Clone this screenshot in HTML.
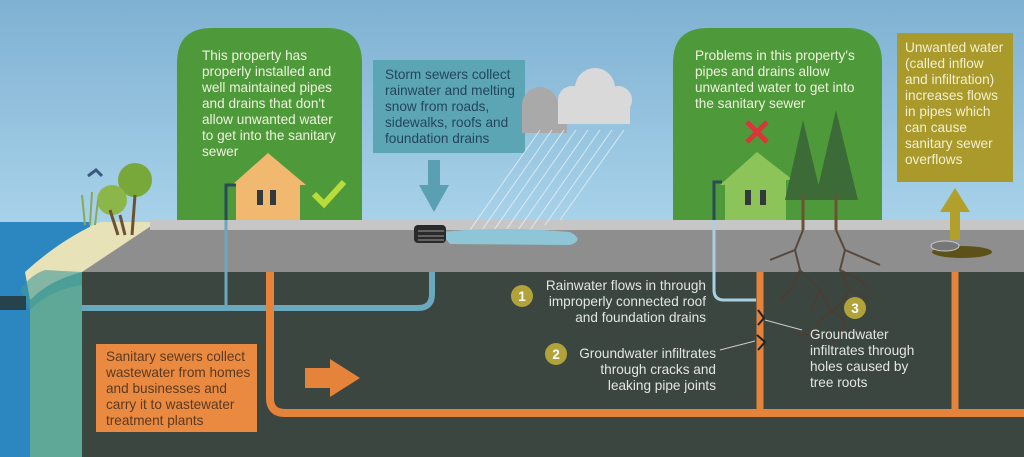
<!DOCTYPE html>
<html><head><meta charset="utf-8"><style>
html,body{margin:0;padding:0;width:1024px;height:457px;overflow:hidden}
svg text{font-family:"Liberation Sans",sans-serif;font-size:13.6px}
</style></head><body>
<svg width="1024" height="457" viewBox="0 0 1024 457" xmlns="http://www.w3.org/2000/svg">
<defs>
<linearGradient id="sky" x1="0" y1="0" x2="0" y2="1"><stop offset="0" stop-color="#7fb1d2"/><stop offset="1" stop-color="#a9d3ea"/></linearGradient>
</defs>
<rect width="1024" height="230" fill="url(#sky)"/>
<!-- sea -->
<rect x="0" y="222" width="90" height="235" fill="#2c86bf"/>
<path d="M30 457 L30 300 Q40 270 60 262 L82 270 L82 457Z" fill="#5fa898"/>
<path d="M25 272 Q60 240 100 222 L160 222 L160 272 L82 272 Q50 280 30 300Z" fill="#e8e2b8"/>
<path d="M20 290 Q30 275 45 270 L82 272 L82 285 Q50 290 30 310Z" fill="#3f9a98" opacity="0.6"/>
<rect x="0" y="296" width="26" height="14" fill="#26434d"/>
<!-- trees left -->
<circle cx="135" cy="180" r="17" fill="#78a83a"/><circle cx="112" cy="200" r="15" fill="#8db64a"/>
<path d="M120 215 L125 235 M135 195 L132 235 M110 210 L118 235" stroke="#6b5236" stroke-width="3"/>
<path d="M85 225 L82 195 M90 225 L92 192 M95 225 L98 200" stroke="#8aa85a" stroke-width="2"/>
<path d="M88 176 L96 170 L102 176" stroke="#3a5a80" stroke-width="3" fill="none"/>
<!-- road -->
<path d="M160 220 L1024 220 L1024 272 L82 272 Z" fill="#8e8e8e"/>
<rect x="150" y="220" width="874" height="10" fill="#c6c6c6"/>
<path d="M82 272 L150 230 L160 230 L160 272Z" fill="#8e8e8e"/>
<!-- underground -->
<rect x="82" y="272" width="942" height="185" fill="#3b4641"/>
<!-- green boxes -->
<path d="M177 220 L177 63 Q177 28 212 28 L327 28 Q362 28 362 63 L362 220Z" fill="#4e9a3b"/>
<path d="M673 220 L673 63 Q673 28 708 28 L847 28 Q882 28 882 63 L882 220Z" fill="#4e9a3b"/>
<g fill="#eef3dc">
<text x="202" y="60">This property has</text>
<text x="202" y="76">properly installed and</text>
<text x="202" y="92">well maintained pipes</text>
<text x="202" y="108">and drains that don't</text>
<text x="202" y="124">allow unwanted water</text>
<text x="202" y="140">to get into the sanitary</text>
<text x="202" y="156">sewer</text>
<text x="695" y="60">Problems in this property's</text>
<text x="695" y="76">pipes and drains allow</text>
<text x="695" y="92">unwanted water to get into</text>
<text x="695" y="108">the sanitary sewer</text>
</g>
<!-- house 1 -->
<path d="M236 185 L236 220 L300 220 L300 185 L306 185 L268 153 L232 185Z" fill="#f1b870"/>
<rect x="257" y="190" width="6" height="15" fill="#33393b"/><rect x="270" y="190" width="6" height="15" fill="#33393b"/>
<path d="M226 220 L226 185 L236 185" stroke="#2a4b5a" stroke-width="3" fill="none"/>
<path d="M314 194 L324 204 L344 182" stroke="#b9dc3c" stroke-width="6" fill="none"/>
<!-- house 2 -->
<path d="M725 185 L725 220 L786 220 L786 180 L793 180 L757 152 L720 185Z" fill="#8cc45a"/>
<rect x="745" y="190" width="6" height="15" fill="#33393b"/><rect x="760" y="190" width="6" height="15" fill="#33393b"/>
<path d="M714 220 L714 182 L722 182" stroke="#2a4b5a" stroke-width="3" fill="none"/>
<path d="M747 122 L767 142 M767 122 L747 142" stroke="#d9363a" stroke-width="5"/>
<!-- pine trees -->
<path d="M803 120 L785 200 L822 200Z M836 110 L815 200 L858 200Z" fill="#3d6b38"/>
<path d="M803 195 L803 230 M836 195 L836 230" stroke="#6b5236" stroke-width="3"/>
<g stroke="#4e3d30" stroke-width="2" fill="none" opacity="0.85">
<path d="M803 230 L795 250 L800 270 L790 290 L780 300 M795 250 L770 260 M800 270 L820 290 L812 310 M836 230 L845 250 L840 270 L850 290 L840 305 L820 320 L810 335 L795 335 M845 250 L880 265 M840 270 L860 280 L870 290 M820 290 L830 310 L845 320 L840 335 L830 345 M850 290 L870 300"/>
</g>
<!-- storm box -->
<rect x="373" y="60" width="152" height="93" fill="#5ca5b5"/>
<g fill="#23465a">
<text x="385" y="79">Storm sewers collect</text>
<text x="385" y="95">rainwater and melting</text>
<text x="385" y="111">snow from roads,</text>
<text x="385" y="127">sidewalks, roofs and</text>
<text x="385" y="143">foundation drains</text>
</g>
<path d="M428 160 L440 160 L440 185 L449 185 L434 212 L419 185 L428 185Z" fill="#5a9fb2"/>
<!-- cloud & rain -->
<circle cx="540" cy="105" r="18" fill="#a9a9a9"/><rect x="522" y="105" width="45" height="28" fill="#a9a9a9"/>
<circle cx="595" cy="88" r="20" fill="#d9d9d9"/><circle cx="572" cy="100" r="14" fill="#d9d9d9"/><circle cx="618" cy="100" r="14" fill="#d9d9d9"/><rect x="558" y="100" width="72" height="24" fill="#d9d9d9"/>
<g stroke="#e8f2f8" stroke-width="1" opacity="0.8">
<path d="M540 130 L470 230 M552 130 L482 230 M564 130 L494 230 M576 130 L506 230 M588 130 L518 230 M600 130 L530 230 M612 130 L545 225 M624 130 L560 220"/>
</g>
<path d="M440 232 Q500 226 570 232 Q585 240 570 245 L450 244Z" fill="#8ec6d8"/>
<rect x="414" y="225" width="32" height="18" rx="4" fill="#2a2a2a"/>
<path d="M418 231 L444 231 M418 236 L444 236 M418 240 L444 240" stroke="#999" stroke-width="1"/>
<!-- yellow box -->
<rect x="897" y="33" width="116" height="149" fill="#a99a2b"/>
<g fill="#f4eed0">
<text x="905" y="52">Unwanted water</text>
<text x="905" y="68">(called inflow</text>
<text x="905" y="84">and infiltration)</text>
<text x="905" y="100">increases flows</text>
<text x="905" y="116">in pipes which</text>
<text x="905" y="132">can cause</text>
<text x="905" y="148">sanitary sewer</text>
<text x="905" y="164">overflows</text>
</g>
<path d="M950 240 L950 212 L940 212 L955 188 L970 212 L960 212 L960 240Z" fill="#b1a02b"/>
<ellipse cx="962" cy="252" rx="30" ry="6" fill="#5c5118"/>
<ellipse cx="945" cy="246" rx="14" ry="5" fill="#777" stroke="#ccc" stroke-width="1"/>
<!-- blue pipes -->
<path d="M82 308 L418 308 Q432 308 432 294 L432 272" stroke="#6aa8bd" stroke-width="6" fill="none"/>
<path d="M226 220 L226 308" stroke="#6aa8bd" stroke-width="3" fill="none"/>
<path d="M714 220 L714 290 Q714 300 724 300 L756 300" stroke="#a8d0e0" stroke-width="3" fill="none"/>
<!-- orange pipes -->
<path d="M270 272 L270 398 Q270 413 285 413 L1024 413" stroke="#e5833a" stroke-width="8" fill="none"/>
<path d="M760 272 L760 413 M955 272 L955 413" stroke="#e5833a" stroke-width="7"/>
<path d="M305 368 L330 368 L330 359 L360 378 L330 397 L330 388 L305 388Z" fill="#e5833a"/>
<path d="M758 310 L764 318 L758 325 M757 335 L765 342 L758 350" stroke="#222" stroke-width="2" fill="none"/>
<!-- orange box -->
<rect x="96" y="344" width="161" height="88" fill="#ea8a40"/>
<g fill="#5a3a22" style="font-size:13.3px">
<text x="106" y="361">Sanitary sewers collect</text>
<text x="106" y="377">wastewater from homes</text>
<text x="106" y="393">and businesses and</text>
<text x="106" y="409">carry it to wastewater</text>
<text x="106" y="425">treatment plants</text>
</g>
<!-- numbered labels -->
<g fill="#b2a23a"><circle cx="522" cy="296" r="11"/><circle cx="556" cy="354" r="11"/><circle cx="855" cy="308" r="11"/></g>
<g fill="#fff" font-weight="bold" text-anchor="middle" style="font-size:14px">
<text x="522" y="301">1</text><text x="556" y="359">2</text><text x="855" y="313">3</text></g>
<g fill="#e3e6df" text-anchor="end">
<text x="706" y="290">Rainwater flows in through</text>
<text x="706" y="306">improperly connected roof</text>
<text x="706" y="322">and foundation drains</text>
<text x="716" y="358">Groundwater infiltrates</text>
<text x="716" y="374">through cracks and</text>
<text x="716" y="390">leaking pipe joints</text>
</g>
<g fill="#e3e6df">
<text x="810" y="339">Groundwater</text>
<text x="810" y="355">infiltrates through</text>
<text x="810" y="371">holes caused by</text>
<text x="810" y="387">tree roots</text>
</g>
<path d="M720 350 L755 341 M765 320 L802 330" stroke="#ccc" stroke-width="1"/>
</svg>
</body></html>
